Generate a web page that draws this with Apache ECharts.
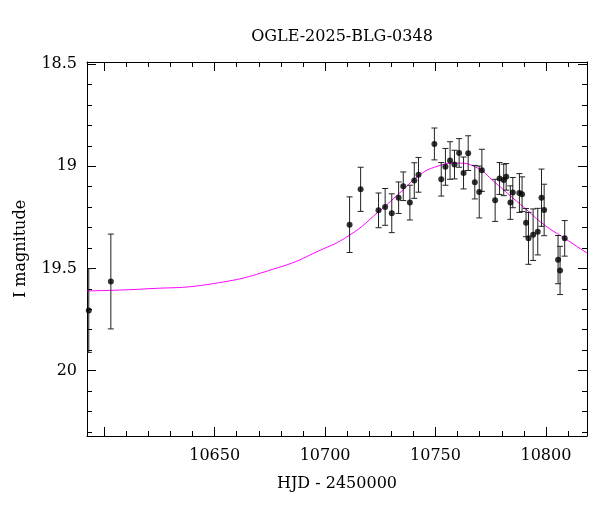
<!DOCTYPE html>
<html>
<head>
<meta charset="utf-8">
<script src="https://cdn.jsdelivr.net/npm/echarts@6/dist/echarts.min.js"></script>
<style>html,body{margin:0;background:#fff}#c{width:600px;height:512px}</style>
</head>
<body>
<div id="c"></div>
<script>
// photometry: HJD-2450000, I mag, error
var hjd = [10593.0, 10603.0, 10711.1, 10716.1, 10724.2, 10727.2, 10730.2, 10733.3, 10735.4, 10738.4,
  10740.4, 10742.3, 10749.5, 10752.6, 10754.5, 10756.6, 10758.6, 10760.7, 10762.7, 10764.8,
  10767.8, 10769.8, 10771.0, 10777.0, 10779.0, 10780.9, 10782.0, 10783.9, 10785.0, 10788.0,
  10789.2, 10791.0, 10792.1, 10794.2, 10796.3, 10798.0, 10799.2, 10805.5, 10806.4, 10808.5];
var mag = [19.706, 19.564, 19.286, 19.113, 19.216, 19.199, 19.23, 19.154, 19.098, 19.178,
  19.07, 19.042, 18.891, 19.064, 19.003, 18.972, 18.992, 18.935, 19.033, 18.936,
  19.078, 19.126, 19.02, 19.167, 19.06, 19.067, 19.052, 19.178, 19.129, 19.131,
  19.137, 19.276, 19.353, 19.335, 19.32, 19.154, 19.214, 19.457, 19.51, 19.353];
var err = [0.205, 0.232, 0.136, 0.108, 0.085, 0.09, 0.095, 0.077, 0.07, 0.085,
  0.087, 0.085, 0.078, 0.082, 0.09, 0.092, 0.07, 0.07, 0.078, 0.085,
  0.082, 0.127, 0.103, 0.103, 0.078, 0.077, 0.065, 0.082, 0.074, 0.095,
  0.085, 0.069, 0.127, 0.126, 0.114, 0.14, 0.126, 0.118, 0.118, 0.087];

// model curve
var modelT = [10592.2, 10619, 10649, 10679.4, 10697, 10711, 10724, 10735.4, 10742, 10749.5,
  10760, 10768, 10777, 10785, 10791, 10799, 10808.5, 10818.6];
var modelM = [19.61, 19.60, 19.575, 19.494, 19.415, 19.338, 19.225, 19.115, 19.05, 19.005,
  18.985, 19.003, 19.08, 19.155, 19.21, 19.285, 19.353, 19.425];

var xMajor = [10600, 10650, 10700, 10750, 10800];
var xLabels = [10650, 10700, 10750, 10800];
var yMajor = [18.5, 19, 19.5, 20];

var X0 = 10592.2, X1 = 10818.6, Y0 = 18.49, Y1 = 20.32;
var font = "DejaVu Serif";

var xMinor = [], yMinor = [];
for (var t = 10600; t <= 10810; t += 10) xMinor.push(t);
for (var m = 185; m <= 203; m++) yMinor.push(m / 10);

function xAx(pos, ticks, len, labels) {
  return {
    type: "value", position: pos, min: X0, max: X1,
    axisLine: { show: len > 5, lineStyle: { color: "#000" } },
    axisTick: { inside: true, length: len, customValues: ticks, lineStyle: { color: "#000" } },
    axisLabel: labels ? { customValues: labels, color: "#000", fontFamily: font, fontSize: 16, margin: 12,
      formatter: function (v) { return String(Math.round(v)); } } : { show: false },
    splitLine: { show: false }
  };
}
function yAx(pos, ticks, len, labels) {
  return {
    type: "value", position: pos, min: Y0, max: Y1, inverse: true,
    axisLine: { show: len > 5, lineStyle: { color: "#000" } },
    axisTick: { inside: true, length: len, customValues: ticks, lineStyle: { color: "#000" } },
    axisLabel: labels ? { customValues: labels, color: "#000", fontFamily: font, fontSize: 16, margin: 10,
      formatter: function (v) { return String(+v.toFixed(1)); } } : { show: false },
    splitLine: { show: false }
  };
}

var pts = hjd.map(function (h, i) { return [h, mag[i], err[i]]; });
var curve = modelT.map(function (t, i) { return [t, modelM[i]]; });

var chart = echarts.init(document.getElementById("c"));
chart.setOption({
  animation: false,
  title: { text: "OGLE-2025-BLG-0348", left: 337, top: 24, textAlign: "center",
    textStyle: { fontFamily: font, fontWeight: "normal", fontSize: 16, color: "#000" } },
  grid: { left: 87, right: 13, top: 62, bottom: 76 },
  xAxis: [xAx("bottom", xMajor, 9, xLabels), xAx("bottom", xMinor, 5), xAx("top", xMajor, 9), xAx("top", xMinor, 5)],
  yAxis: [yAx("left", yMajor, 9, yMajor), yAx("left", yMinor, 5), yAx("right", yMajor, 9), yAx("right", yMinor, 5)],
  graphic: [
    { type: "text", x: 337, y: 476, style: { text: "HJD - 2450000", font: "16px " + font, fill: "#000", textAlign: "center" } },
    { type: "text", x: 13, y: 249, rotation: Math.PI / 2, style: { text: "I magnitude", font: "16px " + font, fill: "#000", textAlign: "center", textVerticalAlign: "top" } }
  ],
  series: [
    { type: "line", data: curve, smooth: true, showSymbol: false, lineStyle: { color: "#ff00ff", width: 1 }, z: 2 },
    { type: "custom", data: pts, z: 3, clip: true,
      renderItem: function (params, api) {
        var x = api.coord([api.value(0), api.value(1)])[0];
        var top = api.coord([api.value(0), api.value(1) - api.value(2)]);
        var bot = api.coord([api.value(0), api.value(1) + api.value(2)]);
        var s = { stroke: "#222", lineWidth: 1 };
        return { type: "group", children: [
          { type: "line", shape: { x1: x, y1: top[1], x2: x, y2: bot[1] }, style: s },
          { type: "line", shape: { x1: x - 3, y1: top[1], x2: x + 3, y2: top[1] }, style: s },
          { type: "line", shape: { x1: x - 3, y1: bot[1], x2: x + 3, y2: bot[1] }, style: s }
        ] };
      } },
    { type: "scatter", data: pts.map(function (p) { return [p[0], p[1]]; }), symbolSize: 6,
      itemStyle: { color: "#000" }, z: 4 }
  ]
});
</script>
</body>
</html>
